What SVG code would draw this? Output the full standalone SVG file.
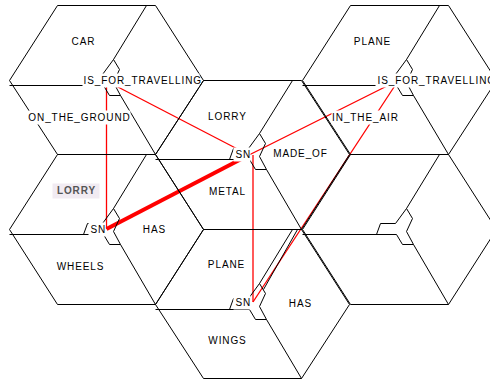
<svg xmlns="http://www.w3.org/2000/svg" width="490" height="380" viewBox="0 0 490 380">
<style>
.hex{fill:none;stroke:#000;stroke-width:1}
.bg{fill:#fff}
.t{font-family:"Liberation Sans",Arial,sans-serif;font-size:10px;letter-spacing:0.9px;fill:#000}
.m{text-anchor:middle}
.link{fill:none;stroke:#f00;stroke-width:1.3}
.strong{stroke-width:4}
.sel{fill:#f1ebf2}
.selt{fill:#555;font-weight:bold}
</style>
<rect width="490" height="380" fill="#fff"/>
<g id="connectors">
<path class="link" d="M106.5,87 V229"/>
<path class="link" d="M116,86 L249,155"/>
<path class="link strong" d="M106.5,229 L249,155"/>
<path class="link" d="M249,155 L391,84"/>
<path class="link" d="M253,155 V302"/>
<path class="link" d="M396,84 L253,302"/>
</g>
<g id="node-car" transform="translate(0.5,0.5)">
<path class="hex" d="M9,80 L57,5 H155 L203,80 L155,154 H57 Z"/>
<path class="hex" d="M9,85 H103 L109,95 H120 L155,154 M83,85 L87,74 H102 L113,59 L146,5 M113,59 L119,69 L113,82 L120,95"/>
<text class="t m" x="83" y="44.6">CAR</text>
<rect class="bg" x="82" y="73" width="117" height="14"/>
<text class="t" x="83" y="83.6">IS_FOR_TRAVELLING</text>
<rect class="bg" x="28" y="110" width="102" height="14"/>
<text class="t m" x="79" y="120.6">ON_THE_GROUND</text>
</g>
<g id="node-plane" transform="translate(0.5,0.5)">
<path class="hex" d="M302,80 L350,5 H448 L496,80 L448,154 H350 Z"/>
<path class="hex" d="M302,85 H396 L402,95 H413 L448,154 M376,85 L380,74 H395 L406,59 L439,5 M406,59 L412,69 L406,82 L413,95"/>
<text class="t m" x="372" y="44.6">PLANE</text>
<rect class="bg" x="375" y="73" width="120" height="14"/>
<text class="t" x="377" y="83.6">IS_FOR_TRAVELLING</text>
<rect class="bg" x="331" y="110" width="68" height="14"/>
<text class="t m" x="365" y="120.6">IN_THE_AIR</text>
</g>
<g id="node-lorry-metal" transform="translate(0.5,0.5)">
<path class="hex" d="M155,154 L203,80 H301 L349,154 L301,229 H203 Z"/>
<path class="hex" d="M155,159 H249 L255,169 H266 L301,229 M229,159 L233,148 H248 L259,133 L292,80 M259,133 L265,143 L259,156 L266,169"/>
<text class="t m" x="227" y="119.6">LORRY</text>
<rect class="bg" x="233" y="147" width="17" height="14"/>
<text class="t" x="235" y="157.6">SN</text>
<rect class="bg" x="206" y="184" width="42" height="14"/>
<text class="t m" x="227" y="194.6">METAL</text>
<rect class="bg" x="270" y="147" width="61" height="13"/>
<text class="t m" x="300" y="156.6">MADE_OF</text>
</g>
<g id="node-lorry-wheels" transform="translate(0.5,0.5)">
<path class="hex" d="M9,229 L57,154 H155 L203,229 L155,304 H57 Z"/>
<path class="hex" d="M9,234 H103 L109,244 H120 L155,304 M83,234 L87,223 H102 L113,208 L146,154 M113,208 L119,218 L113,231 L120,244"/>
<rect class="sel" x="52" y="183" width="47" height="15"/>
<text class="t m selt" x="76" y="193.6">LORRY</text>
<rect class="bg" x="88" y="222" width="17" height="14"/>
<text class="t" x="90" y="232.6">SN</text>
<text class="t m" x="154" y="232.6">HAS</text>
<text class="t m" x="80" y="269.6">WHEELS</text>
</g>
<g id="node-empty" transform="translate(0.5,0.5)">
<path class="hex" d="M302,229 L350,154 H448 L496,229 L448,304 H350 Z"/>
<path class="hex" d="M302,234 H396 L402,244 H413 L448,304 M376,234 L380,223 H395 L406,208 L439,154 M406,208 L412,218 L406,231 L413,244"/>
</g>
<g id="node-plane-wings" transform="translate(0.5,0.5)">
<path class="hex" d="M155,304 L203,229 H301 L349,304 L301,378 H203 Z"/>
<path class="hex" d="M155,309 H249 L255,319 H266 L301,378 M229,309 L233,298 H248 L259,283 L292,229 M259,283 L265,293 L259,306 L266,319 M297,229 L263,289"/>
<text class="t m" x="226" y="267.6">PLANE</text>
<rect class="bg" x="233" y="295" width="17" height="14"/>
<text class="t" x="235" y="305.6">SN</text>
<text class="t m" x="300" y="306.6">HAS</text>
<text class="t m" x="227" y="343.6">WINGS</text>
</g>
</svg>
